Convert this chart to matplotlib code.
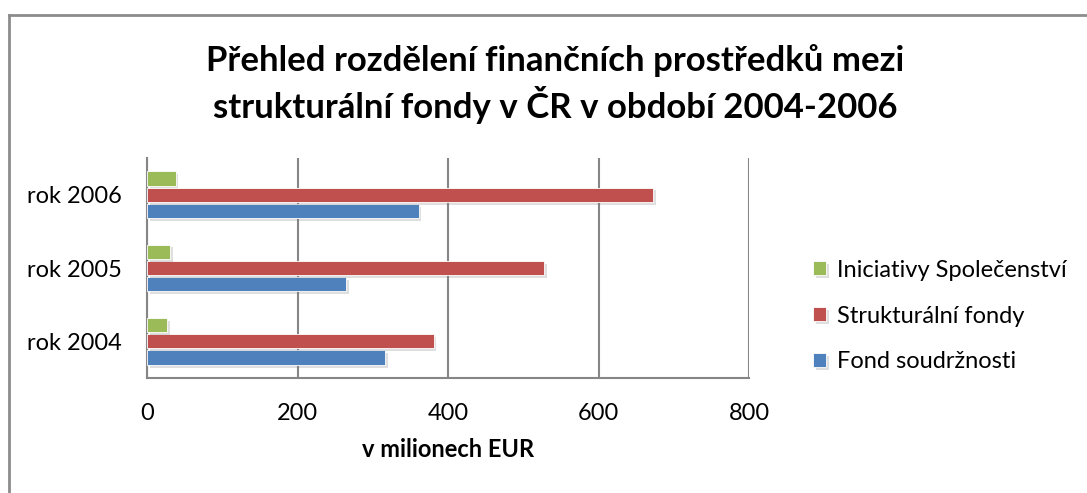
import numpy as np
import matplotlib.pyplot as plt
import matplotlib.patheffects as pe
from matplotlib.lines import Line2D

plt.rcParams['font.family'] = ['Lato', 'DejaVu Sans']

# Data (v milionech EUR)
roky = ['rok 2004', 'rok 2005', 'rok 2006']
fond_soudrznosti = [316, 265, 361]
strukturalni_fondy = [381, 528, 673]
iniciativy = [27, 31, 38]

serie = ['Fond soudržnosti', 'Strukturální fondy', 'Iniciativy Společenství']
barvy = ['#4F81BD', '#C0504D', '#9BBB59']

fig = plt.figure(figsize=(10.87, 4.93), dpi=100)
ax = fig.add_axes([147 / 1087, 1 - 378 / 493, 602 / 1087, 220 / 493])

y = np.arange(len(roky))
step = 0.222
h = 0.195
shadow = [pe.SimplePatchShadow(offset=(2, -2), alpha=0.25, shadow_rgbFace='gray'), pe.Normal()]
bars = []
for i, (vals, c) in enumerate(zip([fond_soudrznosti, strukturalni_fondy, iniciativy], barvy)):
    b = ax.barh(y + (i - 1) * step, vals, height=h, color=c, edgecolor='white',
                linewidth=0.6, zorder=3)
    for p in b:
        p.set_path_effects(shadow)
    bars.append(b)

ax.set_xlim(0, 800)
ax.set_ylim(-0.5, 2.5)
ax.set_xticks([0, 200, 400, 600, 800])
ax.set_yticks(y)
ax.set_yticklabels(roky)
ax.tick_params(axis='both', length=0, labelsize=17)
ax.tick_params(axis='y', pad=18)
ax.tick_params(axis='x', pad=18)
ax.grid(axis='x', color='#868686', linewidth=1.5, zorder=0)
for s in ['top', 'right']:
    ax.spines[s].set_visible(False)
for s in ['left', 'bottom']:
    ax.spines[s].set_color('#868686')
    ax.spines[s].set_linewidth(1.5)
ax.set_xlabel('v milionech EUR', fontsize=17, fontweight='bold', labelpad=10)

handles = [bars[2], bars[1], bars[0]]
labels = [serie[2], serie[1], serie[0]]
fig.legend(handles, labels, loc='center left', bbox_to_anchor=(792 / 1087, 1 - 316 / 493),
           frameon=False, fontsize=17, handlelength=0.55, handleheight=0.55,
           handletextpad=0.45, labelspacing=1.05)

fig.text(555 / 1087, 1 - 84 / 493,
         'Přehled rozdělení finančních prostředků mezi\nstrukturální fondy v ČR v období 2004-2006',
         ha='center', va='center', fontsize=25, fontweight='bold', linespacing=1.3)

# outer chart frame
fig.add_artist(Line2D([9 / 1087, 1], [1 - 15 / 493] * 2, color='#8c8c8c', linewidth=2))
fig.add_artist(Line2D([9 / 1087] * 2, [0, 1 - 15 / 493], color='#8c8c8c', linewidth=2))

fig.savefig('out.png', dpi=100)
